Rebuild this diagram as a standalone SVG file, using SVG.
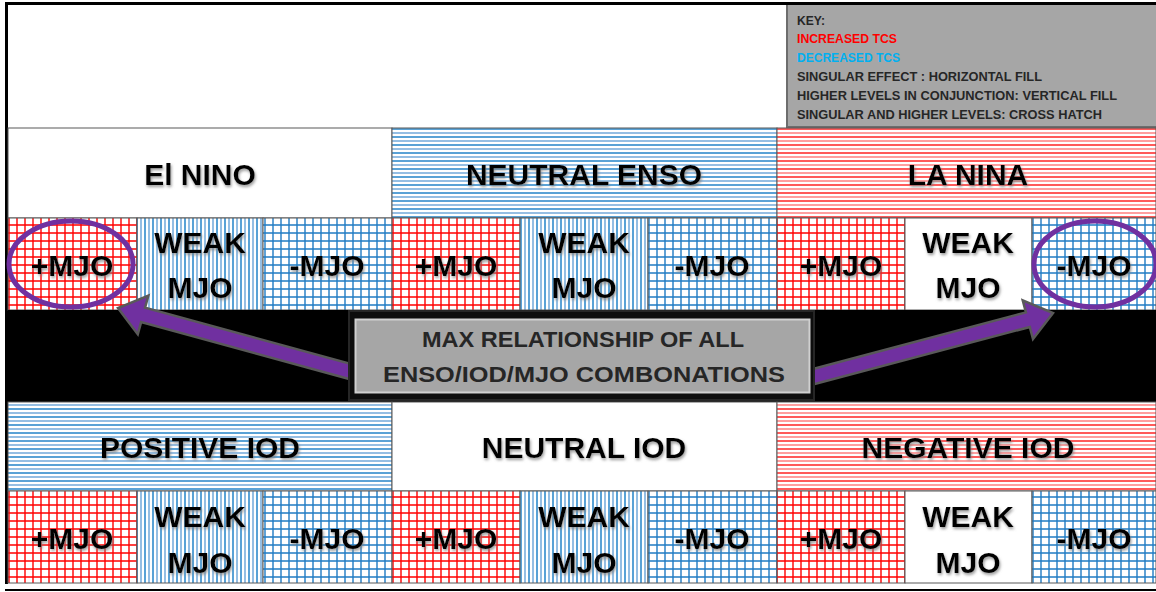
<svg xmlns="http://www.w3.org/2000/svg" width="1156" height="592" viewBox="0 0 1156 592">
<style>
.cell{stroke:#595959;stroke-width:1}
.hd{font-family:"Liberation Sans",Arial,sans-serif;font-weight:bold;font-size:30px;fill:#000;text-anchor:middle}
.mj{font-family:"Liberation Sans",Arial,sans-serif;font-weight:bold;font-size:30px;fill:#000;text-anchor:middle}
.key{font-family:"Liberation Sans",Arial,sans-serif;font-size:12px;fill:#262626;font-weight:bold}
.bx{font-family:"Liberation Sans",Arial,sans-serif;font-size:22px;fill:#262626;text-anchor:middle;font-weight:bold}
.ring{fill:none;stroke:#7030a0;stroke-width:5}
.arrow{fill:#7030a0;stroke:#595959;stroke-width:2.5;stroke-linejoin:miter}
</style>
<defs>
<filter id="glow" x="-10%" y="-30%" width="120%" height="160%">
<feGaussianBlur in="SourceAlpha" stdDeviation="1.6" result="b"/>
<feOffset in="b" dx="1" dy="1.5" result="o"/>
<feFlood flood-color="#7f7f7f" flood-opacity="0.8"/>
<feComposite in2="o" operator="in" result="s"/>
<feMerge><feMergeNode in="s"/><feMergeNode in="SourceGraphic"/></feMerge>
</filter>
<pattern id="redX" width="8" height="8" patternUnits="userSpaceOnUse">
<rect width="8" height="8" fill="#fff"/>
<path d="M1 0V8M0 1H8" stroke="#ff0000" stroke-width="1.4"/>
</pattern>
<pattern id="blueX" width="8" height="8" patternUnits="userSpaceOnUse">
<rect width="8" height="8" fill="#fff"/>
<path d="M1 0V8M0 1H8" stroke="#1f7bc4" stroke-width="1.4"/>
</pattern>
<pattern id="blueV" width="8" height="8" patternUnits="userSpaceOnUse">
<rect width="8" height="8" fill="#fff"/>
<path d="M1 0V8" stroke="#0070c0" stroke-width="1.3"/>
<path d="M5 0V8" stroke="#5b9bd5" stroke-width="1.3"/>
</pattern>
<pattern id="blueH" width="8" height="8" patternUnits="userSpaceOnUse">
<rect width="8" height="8" fill="#fff"/>
<path d="M0 1H8" stroke="#0070c0" stroke-width="1.3"/>
<path d="M0 5H8" stroke="#5b9bd5" stroke-width="1.3"/>
</pattern>
<pattern id="redH" width="8" height="8" patternUnits="userSpaceOnUse">
<rect width="8" height="8" fill="#fff"/>
<path d="M0 1H8" stroke="#ff0000" stroke-width="1.3"/>
<path d="M0 5H8" stroke="#ff6b6b" stroke-width="1.3"/>
</pattern>
</defs>

<rect width="1156" height="592" fill="#fff"/>
<rect x="5" y="2" width="1151" height="3" fill="#000"/>
<rect x="5" y="2" width="3" height="582" fill="#000"/>
<rect x="5" y="589" width="1151" height="2" fill="#000"/>

<g id="key">
<rect x="786" y="5" width="370" height="122" fill="#a6a6a6"/>
<path d="M787 5V127H1156" fill="none" stroke="#6d6d6d" stroke-width="2"/>
<text class="key" x="797" y="25" textLength="28" lengthAdjust="spacingAndGlyphs">KEY:</text>
<text class="key" x="797" y="43" style="fill:#ff0000" textLength="100" lengthAdjust="spacingAndGlyphs">INCREASED TCS</text>
<text class="key" x="797" y="62" style="fill:#00b0f0" textLength="103" lengthAdjust="spacingAndGlyphs">DECREASED  TCS</text>
<text class="key" x="797" y="81" textLength="245" lengthAdjust="spacingAndGlyphs">SINGULAR EFFECT  : HORIZONTAL FILL</text>
<text class="key" x="797" y="100" textLength="320" lengthAdjust="spacingAndGlyphs">HIGHER LEVELS IN CONJUNCTION: VERTICAL FILL</text>
<text class="key" x="797" y="119" textLength="305" lengthAdjust="spacingAndGlyphs">SINGULAR AND HIGHER  LEVELS: CROSS HATCH</text>
</g>

<g id="el-nino"><rect class="cell" x="8" y="128" width="384" height="90" fill="#fff"/><text class="hd" x="200" y="185" filter="url(#glow)">El NINO</text></g>
<g id="neutral-enso"><rect class="cell" x="392" y="128" width="385" height="90" fill="url(#blueH)"/><text class="hd" x="584" y="185" filter="url(#glow)">NEUTRAL ENSO</text></g>
<g id="la-nina"><rect class="cell" x="777" y="128" width="379" height="90" fill="url(#redH)"/><text class="hd" x="968" y="185" filter="url(#glow)">LA NINA</text></g>

<g id="enso-mjo-1"><rect class="cell" x="8" y="218" width="129" height="92" fill="url(#redX)"/><text class="mj" x="72" y="276" filter="url(#glow)">+MJO</text></g>
<g id="enso-mjo-2"><rect class="cell" x="137" y="218" width="126" height="92" fill="url(#blueV)"/><text class="mj" x="200" y="253" filter="url(#glow)">WEAK</text><text class="mj" x="200" y="298" filter="url(#glow)">MJO</text></g>
<g id="enso-mjo-3"><rect class="cell" x="263" y="218" width="129" height="92" fill="url(#blueX)"/><text class="mj" x="327" y="276" filter="url(#glow)">-MJO</text></g>
<g id="enso-mjo-4"><rect class="cell" x="392" y="218" width="128" height="92" fill="url(#redX)"/><text class="mj" x="456" y="276" filter="url(#glow)">+MJO</text></g>
<g id="enso-mjo-5"><rect class="cell" x="520" y="218" width="128" height="92" fill="url(#blueV)"/><text class="mj" x="584" y="253" filter="url(#glow)">WEAK</text><text class="mj" x="584" y="298" filter="url(#glow)">MJO</text></g>
<g id="enso-mjo-6"><rect class="cell" x="648" y="218" width="129" height="92" fill="url(#blueX)"/><text class="mj" x="712" y="276" filter="url(#glow)">-MJO</text></g>
<g id="enso-mjo-7"><rect class="cell" x="777" y="218" width="128" height="92" fill="url(#redX)"/><text class="mj" x="841" y="276" filter="url(#glow)">+MJO</text></g>
<g id="enso-mjo-8"><rect class="cell" x="905" y="218" width="127" height="92" fill="#fff"/><text class="mj" x="968" y="253" filter="url(#glow)">WEAK</text><text class="mj" x="968" y="298" filter="url(#glow)">MJO</text></g>
<g id="enso-mjo-9"><rect class="cell" x="1032" y="218" width="124" height="92" fill="url(#blueX)"/><text class="mj" x="1094" y="276" filter="url(#glow)">-MJO</text></g>

<rect x="8" y="310" width="1148" height="92" fill="#000"/>

<g id="positive-iod"><rect class="cell" x="8" y="402" width="384" height="89" fill="url(#blueH)"/><text class="hd" x="200" y="458" filter="url(#glow)">POSITIVE IOD</text></g>
<g id="neutral-iod"><rect class="cell" x="392" y="402" width="385" height="89" fill="#fff"/><text class="hd" x="584" y="458" filter="url(#glow)">NEUTRAL IOD</text></g>
<g id="negative-iod"><rect class="cell" x="777" y="402" width="379" height="89" fill="url(#redH)"/><text class="hd" x="968" y="458" filter="url(#glow)">NEGATIVE IOD</text></g>

<g id="iod-mjo-1"><rect class="cell" x="8" y="491" width="129" height="92" fill="url(#redX)"/><text class="mj" x="72" y="549" filter="url(#glow)">+MJO</text></g>
<g id="iod-mjo-2"><rect class="cell" x="137" y="491" width="126" height="92" fill="url(#blueV)"/><text class="mj" x="200" y="527" filter="url(#glow)">WEAK</text><text class="mj" x="200" y="573" filter="url(#glow)">MJO</text></g>
<g id="iod-mjo-3"><rect class="cell" x="263" y="491" width="129" height="92" fill="url(#blueX)"/><text class="mj" x="327" y="549" filter="url(#glow)">-MJO</text></g>
<g id="iod-mjo-4"><rect class="cell" x="392" y="491" width="128" height="92" fill="url(#redX)"/><text class="mj" x="456" y="549" filter="url(#glow)">+MJO</text></g>
<g id="iod-mjo-5"><rect class="cell" x="520" y="491" width="128" height="92" fill="url(#blueV)"/><text class="mj" x="584" y="527" filter="url(#glow)">WEAK</text><text class="mj" x="584" y="573" filter="url(#glow)">MJO</text></g>
<g id="iod-mjo-6"><rect class="cell" x="648" y="491" width="129" height="92" fill="url(#blueX)"/><text class="mj" x="712" y="549" filter="url(#glow)">-MJO</text></g>
<g id="iod-mjo-7"><rect class="cell" x="777" y="491" width="128" height="92" fill="url(#redX)"/><text class="mj" x="841" y="549" filter="url(#glow)">+MJO</text></g>
<g id="iod-mjo-8"><rect class="cell" x="905" y="491" width="127" height="92" fill="#fff"/><text class="mj" x="968" y="527" filter="url(#glow)">WEAK</text><text class="mj" x="968" y="573" filter="url(#glow)">MJO</text></g>
<g id="iod-mjo-9"><rect class="cell" x="1032" y="491" width="124" height="92" fill="url(#blueX)"/><text class="mj" x="1094" y="549" filter="url(#glow)">-MJO</text></g>

<g id="highlights">
<ellipse class="ring" cx="71" cy="264" rx="62" ry="43"/>
<ellipse class="ring" cx="1095" cy="264" rx="61" ry="43"/>
</g>

<g id="connectors">
<polygon class="arrow" transform="translate(1053,313) rotate(-14.87)" points="-262,-7.5 -26,-7.5 -26,-20 0,0 -26,20 -26,7.5 -262,7.5"/>
<polygon class="arrow" transform="translate(118,308) rotate(-164.7)" points="-255,-7.5 -26,-7.5 -26,-20 0,0 -26,20 -26,7.5 -255,7.5"/>
</g>

<g id="summary-box">
<rect x="349" y="311" width="465" height="89" fill="#0d0d0d" stroke="#262626" stroke-width="2"/>
<rect x="355.5" y="319.5" width="454" height="73" fill="#a6a6a6" stroke="#d0d0d0" stroke-width="2"/>
<text class="bx" x="583" y="347" textLength="322" lengthAdjust="spacingAndGlyphs">MAX RELATIONSHIP OF ALL</text>
<text class="bx" x="584" y="382" textLength="402" lengthAdjust="spacingAndGlyphs">ENSO/IOD/MJO  COMBONATIONS</text>
</g>
</svg>
